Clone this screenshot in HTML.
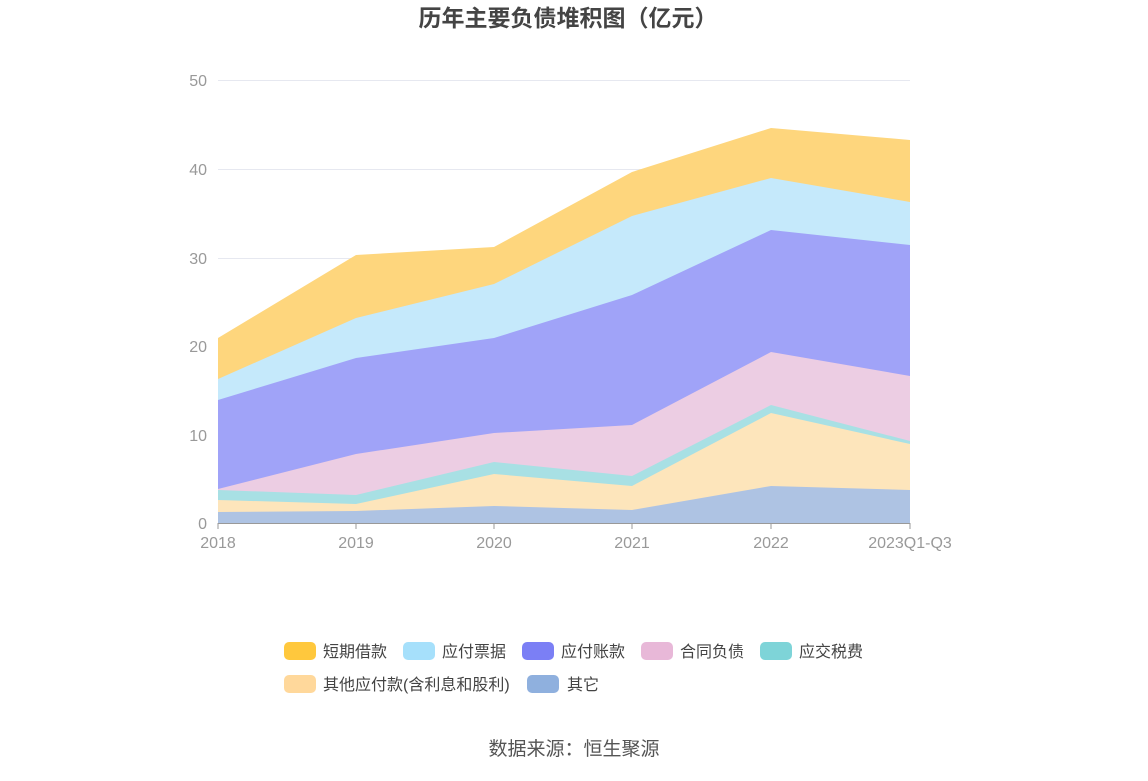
<!DOCTYPE html>
<html><head><meta charset="utf-8"><style>
body{margin:0;background:#fff;width:1148px;height:776px;overflow:hidden;font-family:"Liberation Sans","Noto Sans CJK SC",sans-serif;}
</style></head><body>
<svg width="1148" height="776" xmlns="http://www.w3.org/2000/svg" font-family="Liberation Sans, Noto Sans CJK SC, sans-serif">
<text x="568" y="26" text-anchor="middle" font-size="23" font-weight="bold" fill="#444">历年主要负债堆积图（亿元）</text>
<g stroke="#e6e8f0" stroke-width="1">
<line x1="218" y1="80.5" x2="910" y2="80.5"/><line x1="218" y1="169.5" x2="910" y2="169.5"/>
<line x1="218" y1="258.5" x2="910" y2="258.5"/><line x1="218" y1="346.5" x2="910" y2="346.5"/>
<line x1="218" y1="435.5" x2="910" y2="435.5"/>
</g>
<g font-size="16" fill="#999" text-anchor="end">
<text x="207" y="86">50</text><text x="207" y="175">40</text><text x="207" y="264">30</text>
<text x="207" y="352">20</text><text x="207" y="441">10</text><text x="207" y="529">0</text>
</g>
<polygon fill="#fed67d" points="218,338 356,255 494,247 632,172 771,128 910,140 910,523 218,523"/>
<polygon fill="#c5e9fb" points="218,379 356,318 494,284 632,216 771,178 910,202 910,523 218,523"/>
<polygon fill="#a0a3f8" points="218,400 356,358 494,338 632,295 771,230 910,245 910,523 218,523"/>
<polygon fill="#eccde3" points="218,489 356,454 494,433 632,425 771,352 910,376 910,523 218,523"/>
<polygon fill="#a8e0e4" points="218,490 356,495 494,462 632,476 771,405 910,441 910,523 218,523"/>
<polygon fill="#fde5bb" points="218,500 356,504 494,474 632,486 771,413 910,444 910,523 218,523"/>
<polygon fill="#aec3e3" points="218,512 356,511 494,506 632,510 771,486 910,490 910,523 218,523"/>
<line x1="218" y1="523.5" x2="910" y2="523.5" stroke="#999"/>
<g stroke="#999"><line x1="218" y1="523" x2="218" y2="529"/><line x1="356" y1="523" x2="356" y2="529"/><line x1="494" y1="523" x2="494" y2="529"/><line x1="632" y1="523" x2="632" y2="529"/><line x1="771" y1="523" x2="771" y2="529"/><line x1="910" y1="523" x2="910" y2="529"/></g>
<g font-size="16" fill="#999" text-anchor="middle">
<text x="218" y="548">2018</text><text x="356" y="548">2019</text><text x="494" y="548">2020</text>
<text x="632" y="548">2021</text><text x="771" y="548">2022</text><text x="910" y="548">2023Q1-Q3</text>
</g>
<g font-size="16" fill="#444">
<rect x="284" y="642" width="32" height="18" rx="5" fill="#ffc83d"/><text x="323" y="657">短期借款</text>
<rect x="403" y="642" width="32" height="18" rx="5" fill="#a6e0fb"/><text x="442" y="657">应付票据</text>
<rect x="522" y="642" width="32" height="18" rx="5" fill="#7b7ff5"/><text x="561" y="657">应付账款</text>
<rect x="641" y="642" width="32" height="18" rx="5" fill="#e8b8d8"/><text x="680" y="657">合同负债</text>
<rect x="760" y="642" width="32" height="18" rx="5" fill="#7ed4d8"/><text x="799" y="657">应交税费</text>
<rect x="284" y="675" width="32" height="18" rx="5" fill="#ffd89b"/><text x="323" y="690">其他应付款(含利息和股利)</text>
<rect x="527" y="675" width="32" height="18" rx="5" fill="#8fb0de"/><text x="567" y="690">其它</text>
</g>
<text x="574" y="755" text-anchor="middle" font-size="19" fill="#555">数据来源：恒生聚源</text>
</svg>
</body></html>
